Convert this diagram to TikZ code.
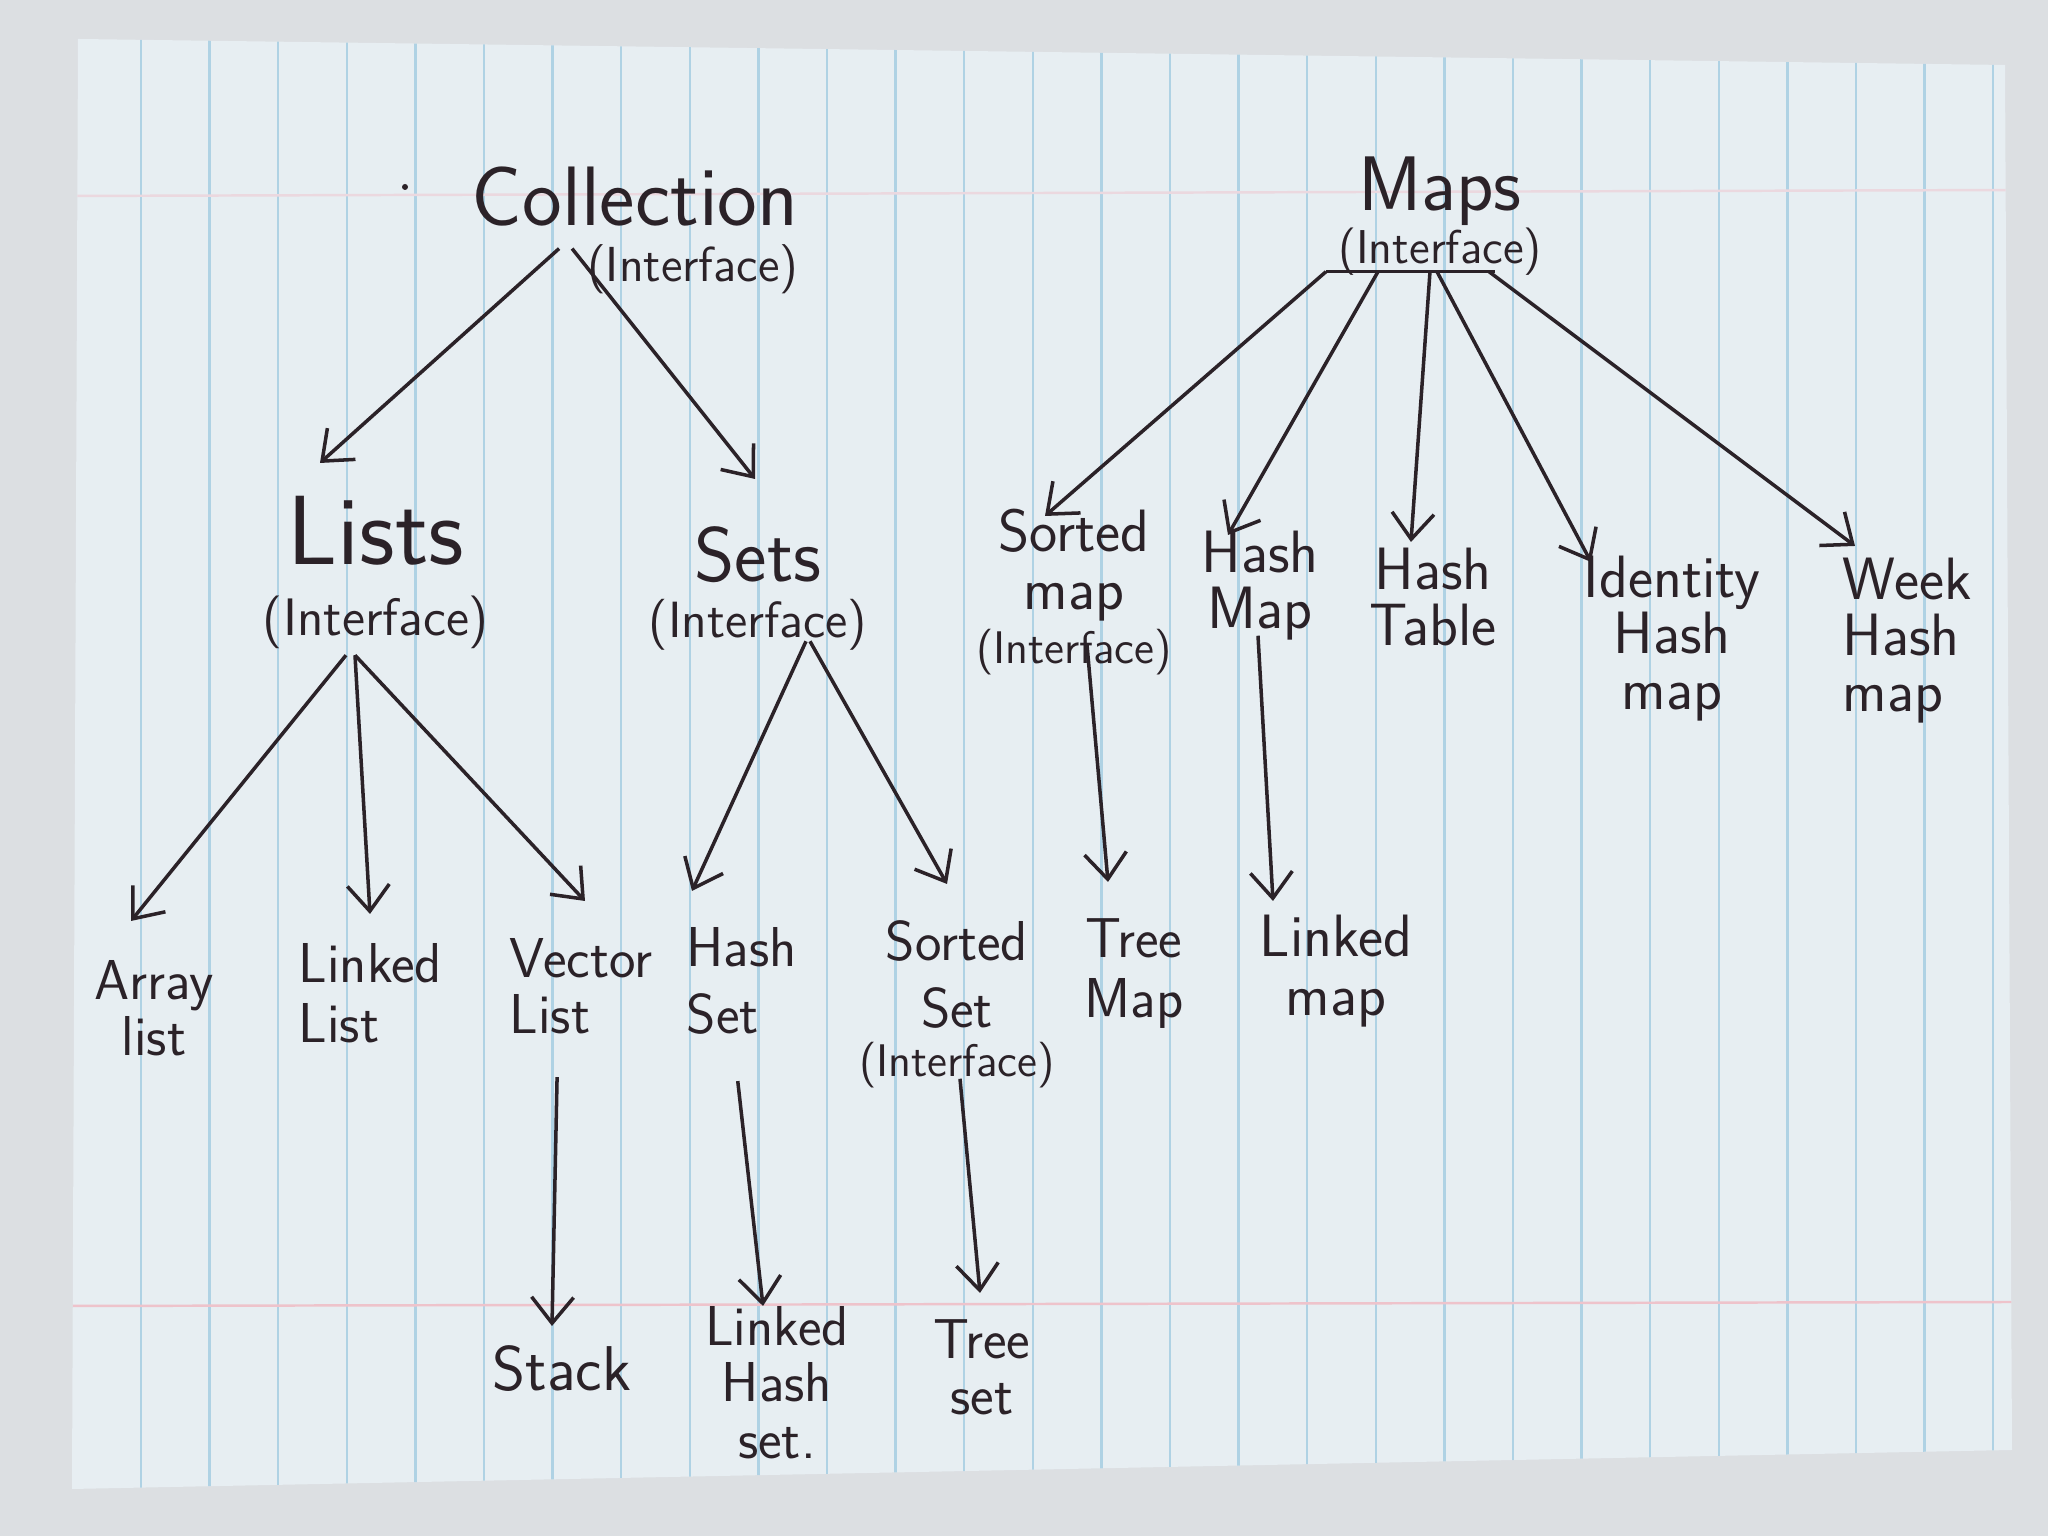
\documentclass[tikz,border=0pt]{standalone}
\usepackage{fontspec}
\usetikzlibrary{arrows.meta}
\definecolor{inkc}{HTML}{2B2228}
\definecolor{deskc}{HTML}{DCDFE2}
\definecolor{paperc}{HTML}{E7EEF2}
\definecolor{rulec}{HTML}{AFD2E4}
\definecolor{marginc}{HTML}{EEC3CB}
\newcommand{\lblfont}[2]{\sffamily\fontsize{#1}{#2}\selectfont}
\newcommand{\intf}[1]{{\fontsize{#1}{#1}\selectfont (Interface)}}
\setlength{\lineskiplimit}{-100pt}
\tikzset{
  ink/.style={draw=inkc, line width=1pt},
  arr/.style={ink, -{Straight Barb[length=2.6mm,width=4.2mm]}},
  lbl/.style={text=inkc, inner sep=0pt, align=center, anchor=north},
}
\begin{document}
\begin{tikzpicture}
\useasboundingbox (0,0) rectangle (20.48,15.36);
% paper
\fill[deskc] (0,0) rectangle (20.48,15.36);
\fill[paperc] (0.78,14.97) -- (20.05,14.71) -- (20.12,0.86) -- (0.72,0.47) -- cycle;
\begin{scope}
\clip (0.78,14.97) -- (20.05,14.71) -- (20.12,0.86) -- (0.72,0.47) -- cycle;
\foreach \x in {0,...,27}
  \draw[rulec, line width=0.7pt] ({1.41+0.686*\x},15) -- ({1.41+0.686*\x},0.4);
\draw[marginc, line width=0.7pt] (0.7,2.30) -- (20.2,2.34);
\draw[marginc!50!paperc, line width=0.7pt] (0.7,13.40) -- (20.2,13.46);
\end{scope}
\fill[inkc] (4.05,13.49) circle (0.03);

% top level
\node[lbl, align=right, anchor=north east, font=\lblfont{24}{16}] (coll) at (7.99,13.70) {Collection\\\intf{14}};
\node[lbl, font=\lblfont{22}{15}] (maps) at (14.40,13.80) {Maps\\\intf{13.5}};

% second level
\node[lbl, font=\lblfont{28}{20}] (lists) at (3.76,10.40) {Lists\\\intf{15}};
\node[lbl, font=\lblfont{22}{16}] (sets) at (7.58,10.10) {Sets\\\intf{14.5}};
\node[lbl, font=\lblfont{17}{16.5}] (smap) at (10.74,10.28) {Sorted\\map\\[-1pt]\intf{13}};
\node[lbl, font=\lblfont{17}{16}] (hmap) at (12.60,10.06) {Hash\\Map};
\node[lbl, font=\lblfont{17}{16}] (htab) at (14.33,9.89) {Hash\\Table};
\node[lbl, font=\lblfont{17}{16}] (ihm) at (16.72,9.81) {Identity\\Hash\\map};
\node[lbl, align=left, anchor=north west, font=\lblfont{17}{16}] (whm) at (18.42,9.79) {Week\\Hash\\map};

% third level
\node[lbl, font=\lblfont{16}{16}] (alist) at (1.54,5.76) {Array\\list};
\node[lbl, align=left, anchor=north west, font=\lblfont{16}{17}] (llist) at (2.98,5.93) {Linked\\List};
\node[lbl, align=left, anchor=north west, font=\lblfont{16}{16}] (vlist) at (5.09,5.98) {Vector\\List};
\node[lbl, align=left, anchor=north west, font=\lblfont{16}{19}] (hset) at (6.86,6.09) {Hash\\Set};
\node[lbl, font=\lblfont{16}{19}] (sset) at (9.57,6.16) {Sorted\\Set\\[-5pt]\intf{13}};
\node[lbl, font=\lblfont{16}{17}] (tmap) at (11.34,6.18) {Tree\\Map};
\node[lbl, font=\lblfont{17}{17}] (lmap) at (13.36,6.22) {Linked\\map};

% fourth level
\node[lbl, font=\lblfont{18}{18}] (stack) at (5.62,1.91) {Stack};
\node[lbl, font=\lblfont{16}{16}] (lhset) at (7.77,2.30) {Linked\\Hash\\set.};
\node[lbl, font=\lblfont{16}{16}] (tset) at (9.82,2.17) {Tree\\set};

% collection
\draw[arr] ([shift={(-0.76,0.46)}]coll.south) -- ([shift={(-0.56,0.33)}]lists.north);
\draw[arr] ([shift={(-0.63,0.46)}]coll.south) -- ([shift={(-0.03,0.47)}]sets.north);
\draw[arr] ([shift={(-0.30,-0.06)}]lists.south) -- ([shift={(-0.23,0.39)}]alist.north);
\draw[arr] ([shift={(-0.21,-0.06)}]lists.south) -- ([shift={(0.72,0.29)}]llist.north west);
\draw[arr] ([shift={(-0.21,-0.06)}]lists.south) -- ([shift={(0.76,0.37)}]vlist.north west);
\draw[arr] ([shift={(0.48,0.10)}]sets.south) -- ([shift={(0.06,0.36)}]hset.north west);
\draw[arr] ([shift={(0.52,0.10)}]sets.south) -- ([shift={(-0.10,0.36)}]sset.north);
\draw[arr] ([shift={(-0.24,-0.42)}]vlist.south) -- ([shift={(-0.10,0.19)}]stack.north);
\draw[arr] ([shift={(-0.04,-0.46)}]hset.south) -- ([shift={(-0.14,0.00)}]lhset.north);
\draw[arr] ([shift={(0.03,0.10)}]sset.south) -- ([shift={(-0.02,0.26)}]tset.north);

% maps
\draw[ink] ([shift={(-1.14,0.04)}]maps.south) -- ([shift={(0.55,0.04)}]maps.south);
\draw[arr] ([shift={(-1.14,0.04)}]maps.south) -- ([shift={(-0.29,-0.08)}]smap.north);
\draw[arr] ([shift={(-0.62,0.04)}]maps.south) -- ([shift={(-0.32,-0.05)}]hmap.north);
\draw[arr] ([shift={(-0.10,0.04)}]maps.south) -- ([shift={(-0.22,0.05)}]htab.north);
\draw[arr] ([shift={(-0.03,0.04)}]maps.south) -- ([shift={(-0.81,-0.07)}]ihm.north);
\draw[arr] ([shift={(0.49,0.04)}]maps.south) -- ([shift={(0.13,0.11)}]whm.north west);
\draw[arr] ([shift={(0.13,0.31)}]smap.south) -- ([shift={(-0.26,0.36)}]tmap.north);
\draw[arr] ([shift={(-0.02,0.05)}]hmap.south) -- ([shift={(-0.63,0.13)}]lmap.north);
\end{tikzpicture}
\end{document}
